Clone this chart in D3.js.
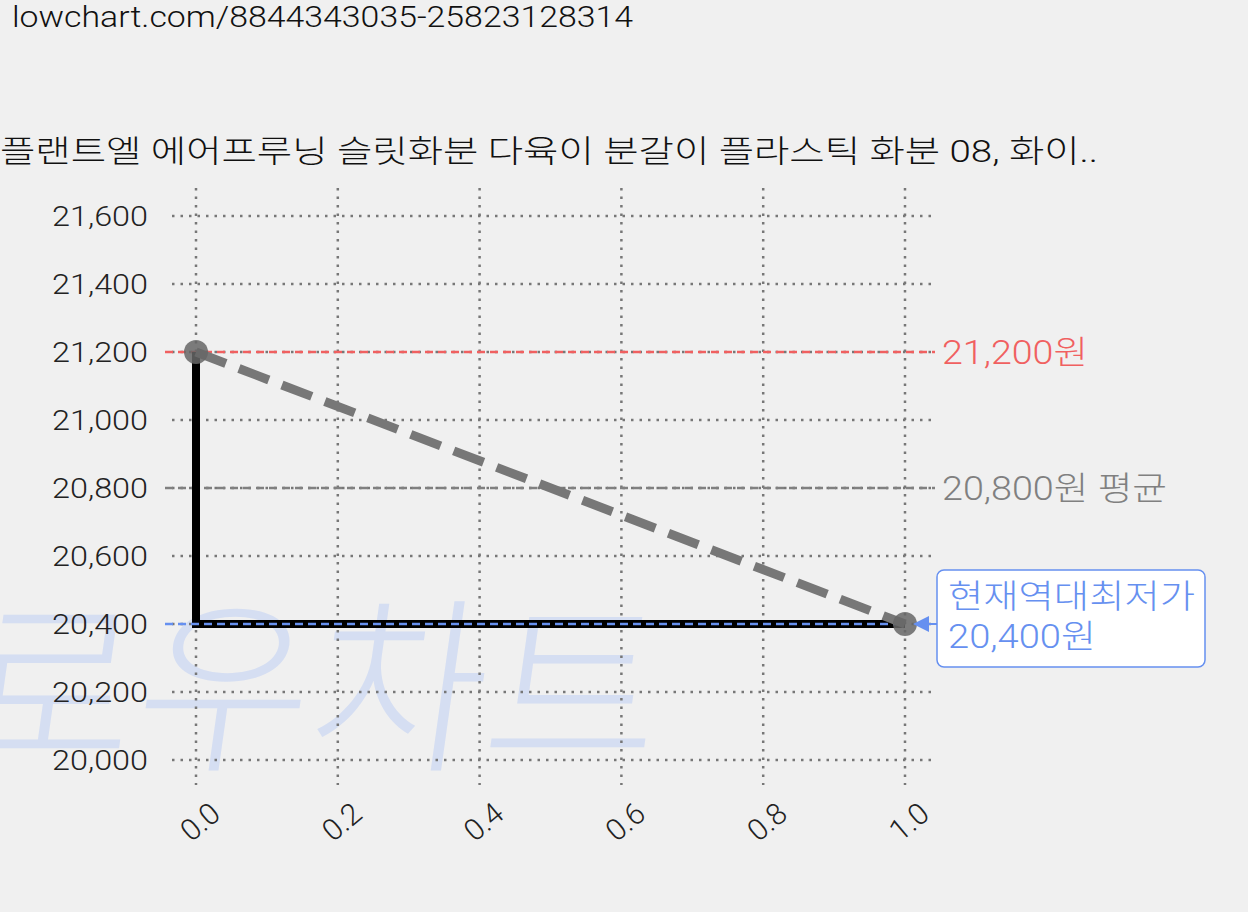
<!DOCTYPE html><html><head><meta charset="utf-8">
<script src="https://cdn.jsdelivr.net/npm/d3@7"></script>
<style>body{margin:0;background:#f0f0f0;}svg{display:block;}text{font-family:Roboto,"Noto Sans CJK KR",sans-serif;font-weight:300;}</style></head><body>
<script>
const xVals=[0,1];
const prices=[21200,20400];
const yTicks=[20000,20200,20400,20600,20800,21000,21200,21400,21600];
const xTicks=[0,0.2,0.4,0.6,0.8,1.0];
const maxPrice=21200, avgPrice=20800, minPrice=20400;
const title="플랜트엘 에어프루닝 슬릿화분 다육이 분갈이 플라스틱 화분 08, 화이..";
const url="lowchart.com/8844343035-25823128314";

const W=1248,H=912;
const svg=d3.select("body").append("svg").attr("width",W).attr("height",H);
const x=d3.scaleLinear().domain([0,1]).range([196,905]);
const y=d3.scaleLinear().domain([20000,21600]).range([760,216]);

svg.append("text").attr("x",-40).attr("y",757).attr("font-size",190).attr("font-weight",900)
 .attr("fill","#d5def2").attr("font-family","'Noto Sans CJK KR'")
 .attr("textLength",700).attr("lengthAdjust","spacingAndGlyphs")
 .attr("transform","skewX(-8) translate(100,0)").text("로우차트");

function T(xp,yp,size,fill,txt,len,anchor){const t=svg.append("text").attr("x",xp).attr("y",yp).attr("font-size",size).attr("fill",fill).text(txt);
 if(len)t.attr("textLength",len).attr("lengthAdjust","spacingAndGlyphs");if(anchor)t.attr("text-anchor",anchor);return t;}
T(12,27,29,"#111",url,621);
T(0,162,31,"#111",title,1098);

const g=svg.append("g");
yTicks.forEach(t=>{
 g.append("line").attr("x1",172).attr("x2",935).attr("y1",y(t)).attr("y2",y(t)).attr("stroke","#777").attr("stroke-width",2.5).attr("stroke-dasharray","2.5,6");
 g.append("text").attr("x",148).attr("y",y(t)+10).attr("text-anchor","end").attr("font-size",28).attr("fill","#222")
  .attr("textLength",96).attr("lengthAdjust","spacingAndGlyphs").text(d3.format(",")(t));
});
xTicks.forEach(t=>{
 g.append("line").attr("x1",x(t)).attr("x2",x(t)).attr("y1",188).attr("y2",785).attr("stroke","#777").attr("stroke-width",2.5).attr("stroke-dasharray","2.5,6");
 g.append("text").attr("transform",`translate(${x(t)+12},${800}) rotate(-40)`).attr("text-anchor","end").attr("dy",22).attr("font-size",30).attr("fill","#222").text(t.toFixed(1));
});

function hline(v,c,w,da,x2){g.append("line").attr("x1",165).attr("x2",x2).attr("y1",y(v)).attr("y2",y(v)).attr("stroke",c).attr("stroke-width",w).attr("stroke-dasharray",da);}
hline(maxPrice,"#f06060",2.5,"8,5",935);
hline(avgPrice,"#808080",2.5,"8,5",935);
g.append("path").attr("d",`M${x(0)},${y(prices[0])}V${y(prices[1])}H${x(1)}`).attr("fill","none").attr("stroke","#000").attr("stroke-width",8);
hline(minPrice,"#6690f0",2.5,"8,5",905);
g.append("line").attr("x1",x(0)).attr("y1",y(prices[0])).attr("x2",x(1)).attr("y2",y(prices[1])).attr("stroke","#777").attr("stroke-width",9).attr("stroke-dasharray","32,14");
xVals.forEach((v,i)=>g.append("circle").attr("cx",x(v)).attr("cy",y(prices[i])).attr("r",12).attr("fill","#666").attr("opacity",0.85));

T(942,y(maxPrice)+12,33,"#f06060","21,200원",146);
T(942,y(avgPrice)+12,33,"#808080","20,800원 평균",225);
svg.append("rect").attr("x",937).attr("y",570).attr("width",268).attr("height",97).attr("rx",7).attr("fill","#fff").attr("stroke","#6690f0").attr("stroke-width",1.5);
T(948,608,33,"#6690f0","현재역대최저가",247);
T(948,648,33,"#6690f0","20,400원",148);
svg.append("path").attr("d",`M${x(1)+8},${y(minPrice)}l16,-8v16z`).attr("fill","#6690f0");
svg.append("line").attr("x1",x(1)+15).attr("x2",937).attr("y1",y(minPrice)).attr("y2",y(minPrice)).attr("stroke","#6690f0").attr("stroke-width",2);
</script></body></html>
